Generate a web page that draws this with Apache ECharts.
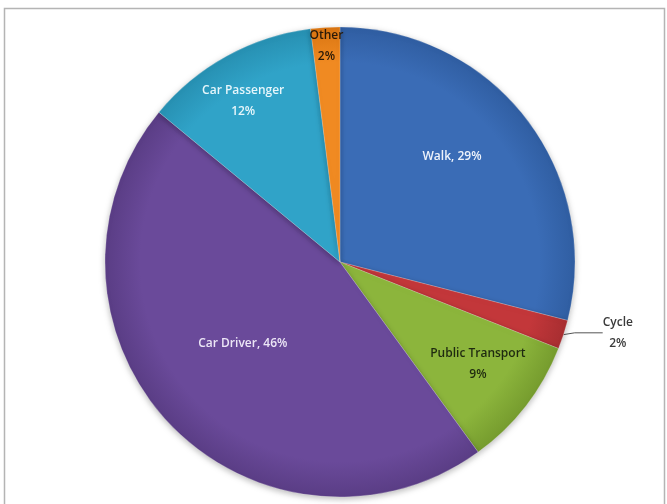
<!DOCTYPE html>
<html>
<head>
<meta charset="utf-8">
<script src="https://cdn.jsdelivr.net/npm/echarts@6/dist/echarts.min.js"></script>
<style>
  html, body { margin: 0; padding: 0; background: #ffffff; }
  #chart { width: 667px; height: 504px; }
</style>
</head>
<body>
<div id="chart"></div>
<script>
// Travel mode shares (percent)
const categories = ['Walk', 'Cycle', 'Public Transport', 'Car Driver', 'Car Passenger', 'Other'];
const shares = [29, 2, 9, 46, 12, 2];
const sliceColors = ['#3a6cb6', '#c3373a', '#8cb53c', '#6a4a9a', '#30a3c8', '#f08a22'];
const edgeColors = ['#305ea2', '#a82e31', '#769c2e', '#5a3d85', '#2790b2', '#d97512'];
const labelColors = ['#eef3fb', '#3a3a3a', '#1f2a10', '#ece6f6', '#e6f6fb', '#2a1a08'];
// label text layout: one line "name, value%" or two lines
const oneLine = [true, false, false, true, false, false];

// pie geometry in pixels
const CX = 340, CY = 262, R = 235;
// label anchor per slice: [fraction of radius, clockwise angle from top in degrees]
const labelSpots = [[0.656, 46.6], [1.22, 104.3], [0.73, 126.5], [0.54, 230], [0.80, 329], [0.92, 356.4]];

const data = categories.map((name, i) => ({
  name: name,
  value: shares[i],
  itemStyle: {
    color: {
      type: 'radial', x: CX, y: CY, r: R, global: true,
      colorStops: [
        { offset: 0, color: sliceColors[i] },
        { offset: 0.85, color: sliceColors[i] },
        { offset: 1, color: edgeColors[i] }
      ]
    }
  },
  label: {
    position: i === 1 ? 'outside' : 'inside',
    color: labelColors[i],
    formatter: oneLine[i] ? '{b}, {c}%' : '{b}\n{c}%'
  },
  labelLine: { show: i === 1 }
}));

const chart = echarts.init(document.getElementById('chart'), null, { renderer: 'canvas' });
chart.setOption({
  backgroundColor: '#ffffff',
  animation: false,
  graphic: [{
    type: 'rect',
    shape: { x: 4.5, y: 8.5, width: 660, height: 510 },
    style: { fill: 'none', stroke: '#b4b4b4', lineWidth: 1.5 },
    z: -1
  }],
  series: [{
    type: 'pie',
    center: [CX, CY],
    radius: R,
    startAngle: 90,
    clockwise: true,
    data: data,
    itemStyle: {
      borderColor: 'rgba(255,255,255,0.35)',
      borderWidth: 0.6,
      shadowBlur: 6,
      shadowColor: 'rgba(0,0,0,0.28)',
      shadowOffsetY: 2
    },
    label: {
      show: true,
      fontFamily: 'Open Sans',
      fontWeight: 600,
      fontSize: 12,
      lineHeight: 21,
      align: 'center'
    },
    labelLine: {
      length: 4,
      length2: 28,
      lineStyle: { color: '#555555', width: 1 }
    },
    labelLayout: function (p) {
      const s = labelSpots[p.dataIndex];
      const a = s[1] * Math.PI / 180;
      return {
        x: CX + R * s[0] * Math.sin(a),
        y: CY - R * s[0] * Math.cos(a),
        align: 'center',
        verticalAlign: 'middle'
      };
    },
    emphasis: { disabled: true }
  }]
});
</script>
</body>
</html>
